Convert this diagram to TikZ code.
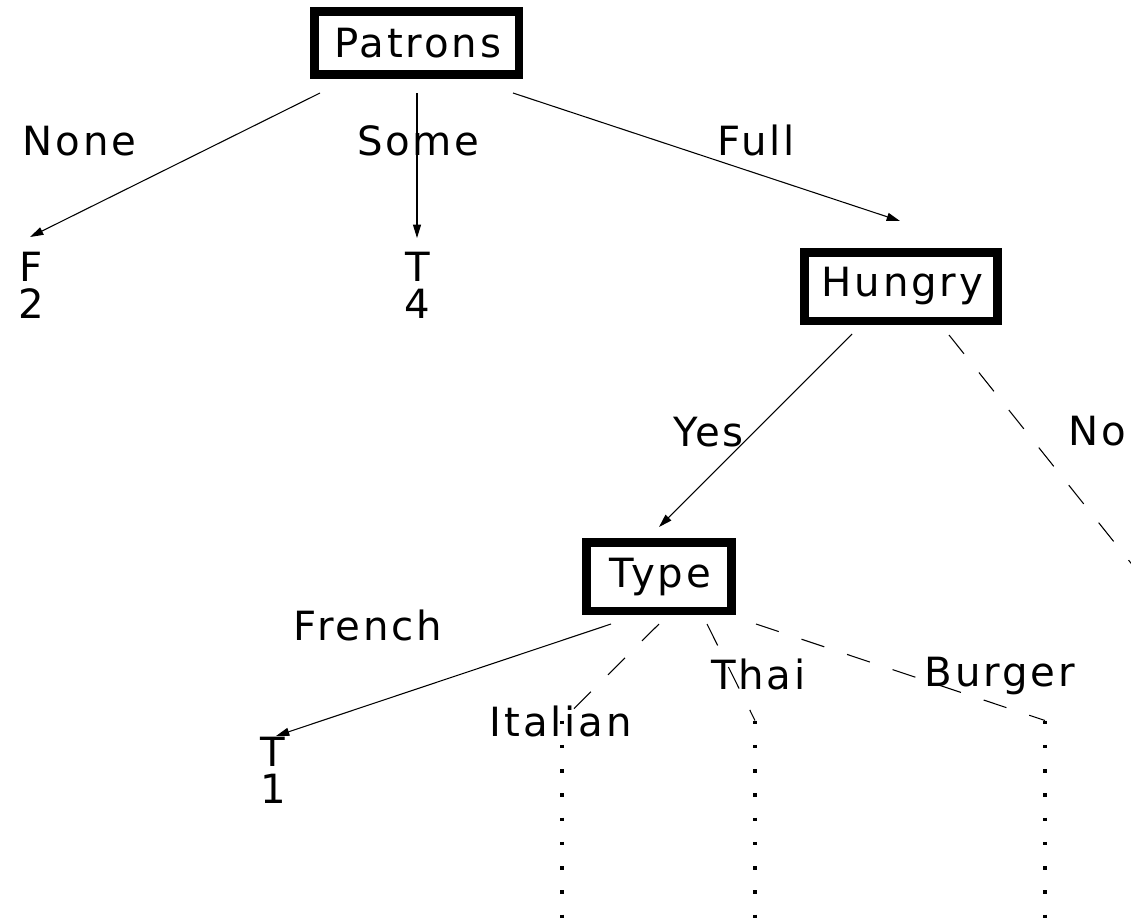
\documentclass[tikz,border=0pt]{standalone}
\usepackage{fontspec}
\setmainfont{DejaVu Sans}[LetterSpace=7.0]
\usetikzlibrary{arrows.meta,calc}
% leading kern that balances the trailing letter space
\newcommand\lsk{\kern2.1pt}
\begin{document}
\begin{tikzpicture}[x=0.75pt,y=-0.75pt,
  every node/.style={font=\fontsize{30.2pt}{27.75pt}\selectfont, inner sep=0pt, outer sep=0pt},
  attr/.style={draw, line width=6.4pt, execute at begin node=\lsk},
  leaf/.style={align=center},
  lbl/.style={anchor=base, execute at begin node=\lsk},
  link/.style={line width=0.8pt},
  arr/.style={link, -{Triangle[length=10pt,width=6pt]}},
  dashlink/.style={link, dash pattern=on 18pt off 18pt},
  cont/.style={line width=2.6pt, dash pattern=on 2.6pt off 15.6pt}
]
\useasboundingbox (0,0) rectangle (1131,918);
\clip (0,0) rectangle (1131,918);

% attribute tests
\node[attr, minimum width=153.4pt, minimum height=47.6pt] (patrons) at (416.5,43) {Patrons};
\node[attr, minimum width=145.1pt, minimum height=51.4pt] (hungry) at (901,286.5) {Hungry};
\node[attr, minimum width=109.1pt, minimum height=51.4pt] (type) at (659,576.5) {Type};

% leaves: class and count
\node[leaf] (f2) at (29.5,285.5) {\lsk F\\\lsk 2};
\node[leaf] (t4) at (416,285.5) {\lsk T\\\lsk 4};
\node[leaf] (t1) at (271.5,770) {\lsk T\\\lsk 1};

% branches of Patrons
\draw[arr] ($(patrons.center)+(-96.5,50)$) -- ($(f2.center)+(0.5,-48.5)$);
\draw[arr] ($(patrons.center)+(0.5,50)$) -- ($(t4.center)+(1,-47.5)$);
\draw[arr] ($(patrons.center)+(96.5,50)$) -- ($(hungry.center)+(-1,-65.5)$);
\node[lbl] (l-none) at (78,155) {None};
\node[lbl] (l-some) at (417,155) {Some};
\node[lbl] (l-full) at (755,155) {Full};

% branches of Hungry
\draw[arr] ($(hungry.center)+(-49,47.5)$) -- ($(type.center)+(0,-49.5)$);
\coordinate (noend) at (1140,574.5);
\draw[dashlink] ($(hungry.center)+(48,48.5)$) -- (noend);
\node[lbl] (l-yes) at (707,446) {Yes};
\node[lbl] (l-no) at (1096,445) {No};

% branches of Type
\coordinate (it) at (562,720.5);
\coordinate (th) at (755,720.5);
\coordinate (bu) at (1045,720.5);
\draw[arr] ($(type.center)+(-48,47.5)$) -- ($(t1.center)+(4.5,-34)$);
\draw[dashlink] ($(type.center)+(0,47.5)$) -- (it);
\draw[dashlink] ($(type.center)+(48,47.5)$) -- (th);
\draw[dashlink] ($(type.center)+(97,47.5)$) -- (bu);
\node[lbl] (l-french) at (366.5,640) {French};
\node[lbl] (l-italian) at (559.5,736) {Italian};
\node[lbl] (l-thai) at (757,689) {Thai};
\node[lbl] (l-burger) at (998.5,686) {Burger};

% unexpanded subtrees
\draw[cont] (it) -- ($(it)+(0,210)$);
\draw[cont] (th) -- ($(th)+(0,210)$);
\draw[cont] (bu) -- ($(bu)+(0,210)$);
\end{tikzpicture}
\end{document}
